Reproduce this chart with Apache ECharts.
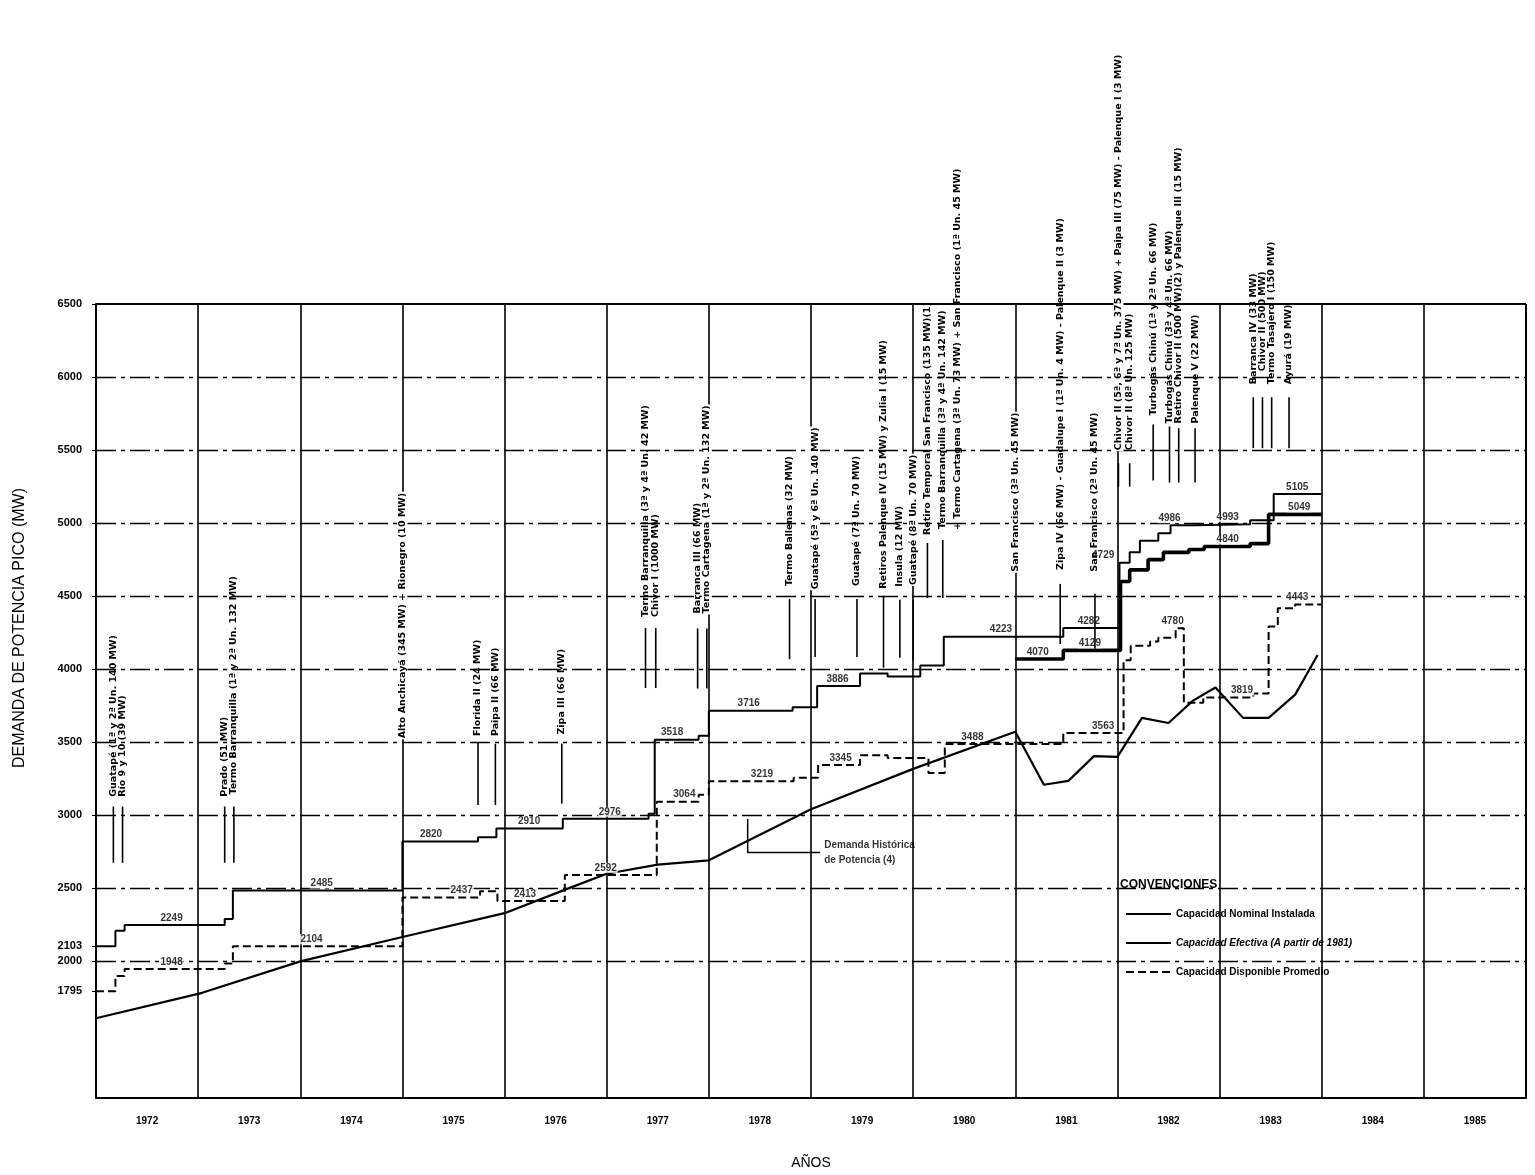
<!DOCTYPE html>
<html><head><meta charset="utf-8">
<script src="https://cdn.jsdelivr.net/npm/echarts@6/dist/echarts.min.js"></script>
<style>html,body{margin:0;background:#fff}#c{width:1535px;height:1175px}</style>
</head><body><div id="c"></div>
<script>
// ---------- DATA ----------
const years = [1972,1973,1974,1975,1976,1977,1978,1979,1980,1981,1982,1983,1984,1985];
const yTicks = [1795,2000,2103,2500,3000,3500,4000,4500,5000,5500,6000,6500];
const gridLevels = [2000,2500,3000,3500,4000,4500,5000,5500,6000];

// Capacidad Nominal Instalada (step: value holds until next x)
const nominal = [[1972.0,2103],[1972.19,2210],[1972.28,2249],[1973.26,2290],[1973.34,2485],[1975.0,2820],[1975.74,2850],[1975.92,2910],[1976.57,2976],[1977.41,3010],[1977.47,3518],[1977.9,3545],[1978.0,3716],[1978.82,3740],[1979.06,3886],[1979.48,3970],[1979.75,3950],[1980.07,4025],[1980.3,4223],[1981.47,4282],[1982.02,4729],[1982.12,4800],[1982.22,4880],[1982.4,4930],[1982.52,4986],[1982.75,4993],[1983.3,5020],[1983.53,5200],[1984.0,5200]];
// Capacidad Efectiva (a partir de 1981)
const efectiva = [[1981.0,4070],[1981.47,4129],[1982.03,4600],[1982.12,4680],[1982.3,4750],[1982.45,4800],[1982.7,4820],[1982.85,4840],[1983.3,4860],[1983.48,5060],[1984.0,5060]];
// Capacidad Disponible Promedio
const disponible = [[1972.0,1795],[1972.19,1900],[1972.28,1948],[1973.26,1985],[1973.34,2104],[1975.0,2437],[1975.76,2480],[1975.93,2413],[1976.59,2592],[1977.49,3093],[1977.9,3140],[1978.0,3233],[1978.83,3257],[1979.07,3345],[1979.48,3412],[1979.75,3392],[1980.15,3290],[1980.31,3488],[1981.47,3563],[1982.06,4062],[1982.13,4160],[1982.32,4190],[1982.40,4215],[1982.57,4280],[1982.65,3771],[1982.84,3806],[1983.33,3833],[1983.48,4292],[1983.57,4417],[1983.74,4443],[1984.0,4443]];
// Demanda Historica de Potencia
const demanda = [[1972.0,1611],[1973.04,1785],[1973.1,1799],[1974.0,2000],[1975.0,2167],[1976.0,2330],[1976.6,2493],[1977.0,2600],[1977.5,2662],[1978.0,2692],[1979.0,3041],[1980.0,3318],[1981.0,3572],[1981.28,3209],[1981.52,3236],[1981.77,3405],[1982.0,3400],[1982.24,3667],[1982.5,3632],[1982.74,3785],[1982.96,3875],[1983.23,3667],[1983.48,3667],[1983.74,3826],[1983.96,4097]];
const demandaNoteLeader = [[1978.38,2975],[1978.38,2745],[1979.09,2745]];
const demandaNoteAt = [1979.1,2745];
const demandaNoteText = 'Demanda Histórica\nde Potencia (4)';

// value labels written on the lines
const valueLabelText = ['2249','1948','2485','2104','2820','2437','2910','2413','2976','2592','3518','3064','3716','3219','3886','3345','3488','4223','4070','4282','4129','3563','4729','4986','4993','4840','4780','3819','5105','5049','4443'];
const valueLabelX = [1972.74,1972.74,1974.21,1974.11,1975.28,1975.58,1976.24,1976.2,1977.03,1976.99,1977.64,1977.76,1978.39,1978.52,1979.26,1979.29,1980.58,1980.86,1981.22,1981.72,1981.73,1981.86,1981.86,1982.51,1983.08,1983.08,1982.54,1983.22,1983.76,1983.78,1983.76];
const valueLabelY = [2249,1948,2485,2104,2820,2437,2910,2413,2976,2592,3518,3093,3716,3233,3886,3345,3488,4223,4070,4282,4129,3563,4729,4986,4993,4840,4280,3806,5200,5060,4443];

// commissioning notes (vertical text) : year, value at text foot, leader top/bottom
const annoText = [
 'Guatapé (1ª y 2ª Un. 140 MW)','Río 9 y 10 (39 MW)',
 'Prado (51 MW)','Termo Barranquilla (1ª y 2ª Un. 132 MW)',
 'Alto Anchicayá (345 MW) + Rionegro (10 MW)',
 'Florida II (24 MW)','Paipa II (66 MW)','Zipa III (66 MW)',
 'Termo Barranquilla (3ª y 4ª Un. 42 MW)','Chivor I (1000 MW)',
 'Barranca III (66 MW)','Termo Cartagena (1ª y 2ª Un. 132 MW)',
 'Termo Ballenas (32 MW)','Guatapé (5ª y 6ª Un. 140 MW)','Guatapé (7ª Un. 70 MW)',
 'Retiros Palenque IV (15 MW) y Zulia I (15 MW)','Insula (12 MW)','Guatapé (8ª Un. 70 MW)',
 'Retiro Temporal San Francisco (135 MW)(1)','Termo Barranquilla (3ª y 4ª Un. 142 MW)',
 '+ Termo Cartagena (3ª Un. 73 MW) + San Francisco (1ª Un. 45 MW)',
 'San Francisco (3ª Un. 45 MW)',
 'Zipa IV (66 MW) - Guadalupe I (1ª Un. 4 MW) - Palenque II (3 MW)',
 'San Francisco (2ª Un. 45 MW)',
 'Chivor II (5ª, 6ª y 7ª Un. 375 MW) + Paipa III (75 MW) - Palenque I (3 MW)',
 'Chivor II (8ª Un. 125 MW)',
 'Turbogás Chinú (1ª y 2ª Un. 66 MW)','Turbogás Chinú (3ª y 4ª Un. 66 MW)',
 'Retiro Chivor II (500 MW)(2) y Palenque III (15 MW)','Palenque V (22 MW)',
 'Barranca IV (33 MW)','Chivor II (500 MW)','Termo Tasajero I (150 MW)','Ayurá (19 MW)'];
const annoYear = [1972.17,1972.26,1973.26,1973.35,1975.0,1975.74,1975.91,1976.56,1977.38,1977.48,1977.89,1977.98,1978.79,1979.04,1979.45,1979.71,1979.87,1980.0,1980.14,1980.29,1980.43,1981.0,1981.44,1981.78,1982.01,1982.12,1982.35,1982.51,1982.6,1982.76,1983.33,1983.42,1983.51,1983.68];
const annoBase = [3120,3120,3120,3135,3520,3536,3536,3546,4350,4350,4375,4375,4562,4541,4562,4544,4557,4570,4912,4953,4946,4661,4673,4661,5492,5492,5730,5676,5676,5676,5944,6033,5944,5944];
const leaderTop = [3060,3060,3060,3060,null,3495,3490,3491,4282,4282,4279,4279,4480,4480,4480,4503,4475,4475,4864,4885,null,null,4584,4516,5410,5410,5675,5662,5650,5650,5862,5862,5862,5862];
const leaderBottom = [2675,2675,2675,2675,null,3070,3070,3080,3871,3871,3868,3868,4069,4083,4083,4010,4078,4059,4487,4487,null,null,4173,4140,5250,5250,5292,5278,5278,5278,5513,5513,5513,5513];

// ---------- CHART ----------
const chart = echarts.init(document.getElementById('c'), null, {renderer:'canvas'});
const F = "'Liberation Sans', Arial, sans-serif";
const annoData = annoYear.map((x,i)=>[x, annoBase[i], leaderTop[i], leaderBottom[i]]);

chart.setOption({
  backgroundColor:'#fff',
  animation:false,
  color:['#000','#000','#000','#000','#000','#000','#000','#000','#000'],
  title:{text:'CONVENCIONES', left:1115, top:874, textStyle:{fontFamily:F, fontSize:12, fontWeight:'bold', color:'#000'}},
  legend:{orient:'vertical', left:1120, top:904, itemGap:19, itemWidth:45, itemHeight:12,
    itemStyle:{opacity:0},
    textStyle:{fontFamily:F, fontSize:10, fontWeight:'bold', color:'#000'},
    data:[{name:'Capacidad Nominal Instalada'},{name:'Capacidad Efectiva (A partir de 1981)', textStyle:{fontStyle:'italic'}},{name:'Capacidad Disponible Promedio'}]},
  grid:{left:96, right:9, top:304, bottom:77},
  xAxis:{type:'value', min:1972, max:1986, interval:1,
    axisLine:{lineStyle:{color:'#000', width:2}}, axisTick:{show:false},
    axisLabel:{customValues: years.map(y=>y+0.5), formatter:v=>String(Math.floor(v)), margin:18,
      fontFamily:F, fontSize:10, fontWeight:'bold', color:'#000'},
    splitLine:{show:true, lineStyle:{color:'#000', width:1.6}},
    name:'AÑOS', nameLocation:'middle', nameGap:58, nameTextStyle:{fontFamily:F, fontSize:14, color:'#000'}},
  yAxis:{type:'value', min:1065, max:6500,
    axisLine:{show:true, lineStyle:{color:'#000', width:2}},
    axisTick:{show:true, customValues:yTicks, length:4, lineStyle:{color:'#000'}},
    axisLabel:{customValues:yTicks, formatter:v=>String(v), margin:14, fontFamily:F, fontSize:11, fontWeight:'bold', color:'#000'},
    splitLine:{show:false}},
  graphic:[{type:'text', x:20, y:628, rotation:Math.PI/2,
    style:{text:'DEMANDA DE POTENCIA PICO (MW)', font:"16px 'Liberation Sans', Arial, sans-serif", fill:'#000', align:'center', verticalAlign:'middle'}}],
  series:[
    {name:'grid', type:'line', data:[[1972,null]], showSymbol:false, silent:true, z:1,
      markLine:{silent:true, symbol:'none', label:{show:false},
        lineStyle:{color:'#000', width:1.3, type:[20,5,4,5]},
        data: gridLevels.map(v=>({yAxis:v})).concat([
          {yAxis:6500, lineStyle:{type:'solid', width:2.2}},
          {xAxis:1986, lineStyle:{type:'solid', width:2}}])}},
    {name:'Capacidad Nominal Instalada', type:'line', step:'end', data:nominal, showSymbol:false, symbol:'none', z:5,
      itemStyle:{color:'#000'}, lineStyle:{color:'#000', width:2}},
    {name:'Capacidad Efectiva (A partir de 1981)', type:'line', step:'end', data:efectiva, showSymbol:false, symbol:'none', z:6,
      itemStyle:{color:'#000'}, lineStyle:{color:'#000', width:3.6}},
    {name:'Capacidad Disponible Promedio', type:'line', step:'end', data:disponible, showSymbol:false, symbol:'none', z:5,
      itemStyle:{color:'#000'}, lineStyle:{color:'#000', width:2, type:[8,4]}},
    {name:'Demanda Histórica de Potencia', type:'line', data:demanda, showSymbol:false, symbol:'none', z:5,
      lineStyle:{color:'#000', width:2.2}},
    {name:'leader', type:'line', data:demandaNoteLeader, showSymbol:false, symbol:'none', z:5,
      lineStyle:{color:'#000', width:1.5}},
    {name:'note', type:'scatter', data:[demandaNoteAt], symbolSize:0, z:7,
      label:{show:true, position:'right', distance:3, formatter:()=>demandaNoteText, fontFamily:F, fontSize:10, fontWeight:'bold', color:'#000', lineHeight:15}},
    {name:'values', type:'scatter', data:valueLabelX.map((x,i)=>[x, valueLabelY[i]]), symbolSize:0, z:8,
      label:{show:true, position:'top', distance:2, formatter:p=>valueLabelText[p.dataIndex],
        fontFamily:F, fontSize:10, fontWeight:'bold', color:'#000', backgroundColor:'#fff', padding:[0,1]}},
    {name:'notes', type:'custom', data:annoData, z:9, clip:false,
      renderItem:(params, api)=>{
        const i = params.dataIndex;
        const x = api.value(0);
        const p = api.coord([x, api.value(1)]);
        const onYearLine = Math.abs(x - Math.round(x)) < 0.05;
        const children = [{type:'text', x:p[0], y:p[1], rotation:Math.PI/2,
          style:{text:annoText[i], fill:'#000', font:"bold 9.5px 'DejaVu Sans', sans-serif",
            align:'left', verticalAlign:'middle', backgroundColor: onYearLine ? '#fff' : null, padding:[0,1]}}];
        const t = api.value(2), b = api.value(3);
        if (t === t && b === b && t != null && b != null) {
          const a = api.coord([x, t]), c = api.coord([x, b]);
          children.push({type:'line', shape:{x1:a[0], y1:a[1], x2:c[0], y2:c[1]}, style:{stroke:'#000', lineWidth:1.6}});
        }
        return {type:'group', children};
      }}
  ]
});
</script></body></html>
